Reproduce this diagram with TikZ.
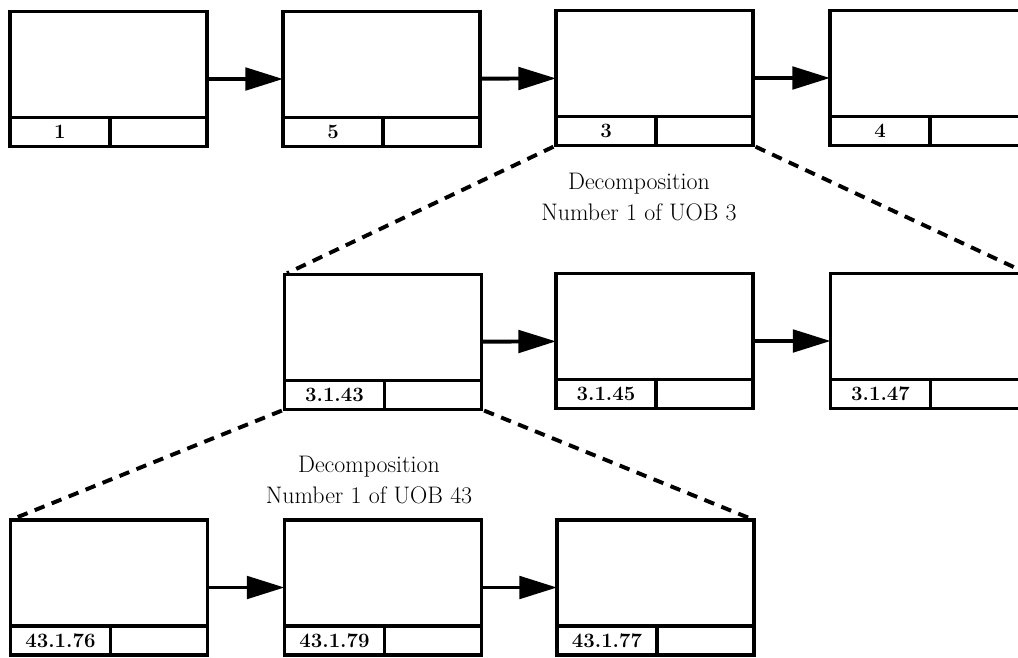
\documentclass[tikz,border=0pt]{standalone}
\usepackage{tikz}
\usetikzlibrary{arrows.meta}
\tikzset{
  uob/.style = {rectangle, draw=black, line width=2.6pt, minimum width=4.925cm, minimum height=3.375cm, inner sep=0pt, outer sep=0pt},
  uobnum/.style = {rectangle, draw=black, line width=2.6pt, anchor=south west, minimum width=2.5cm, minimum height=0.725cm, inner sep=0pt, outer sep=0pt, font=\fontsize{14.5}{16}\selectfont\bfseries},
  uobrest/.style = {rectangle, draw=black, line width=2.6pt, anchor=south east, minimum width=2.425cm, minimum height=0.725cm, inner sep=0pt, outer sep=0pt},
  precedes/.style = {line width=2.8pt, -{Triangle[length=0.94cm, width=0.56cm]}},
  decomp/.style = {line width=2.8pt, dash pattern=on 7.5pt off 5.5pt, shorten <=2pt, shorten >=2pt},
  decomplabel/.style = {align=center, font=\fontsize{17}{22}\selectfont}
}

\begin{document}
\begin{tikzpicture}[x=0.025cm, y=-0.025cm]
\useasboundingbox (0,0) rectangle (1018,657);
\clip (0,0) rectangle (1018,657);
% TOP ROW
\node (U1) [uob] at (108.5,79) {};
\node (U1-n) [uobnum] at (U1.south west) {1};
\node (U1-r) [uobrest] at (U1.south east) {};
\node (U5) [uob] at (381.5,79) {};
\node (U5-n) [uobnum] at (U5.south west) {5};
\node (U5-r) [uobrest] at (U5.south east) {};
\node (U3) [uob] at (654.5,78) {};
\node (U3-n) [uobnum] at (U3.south west) {3};
\node (U3-r) [uobrest] at (U3.south east) {};
\node (U4) [uob] at (928.5,78) {};
\node (U4-n) [uobnum] at (U4.south west) {4};
\node (U4-r) [uobrest] at (U4.south east) {};
\draw [precedes] (U1) -- (U5);
\draw [precedes] (U5) -- (U3);
\draw [precedes] (U3) -- (U4);
% DECOMPOSITION OF UOB 3
\node (U3-43) [uob] at (383,342) {};
\node (U3-43-n) [uobnum] at (U3-43.south west) {3.1.43};
\node (U3-43-r) [uobrest] at (U3-43.south east) {};
\node (U3-45) [uob] at (654.5,341) {};
\node (U3-45-n) [uobnum] at (U3-45.south west) {3.1.45};
\node (U3-45-r) [uobrest] at (U3-45.south east) {};
\node (U3-47) [uob] at (929,341) {};
\node (U3-47-n) [uobnum] at (U3-47.south west) {3.1.47};
\node (U3-47-r) [uobrest] at (U3-47.south east) {};
\draw [precedes] (U3-43) -- (U3-45);
\draw [precedes] (U3-45) -- (U3-47);
\draw [decomp] (U3.south west) -- (U3-43.north west);
\draw [decomp] (U3.south east) -- (U3-47.north east);
\node (D3) [decomplabel] at (639,197) {Decomposition\\Number 1 of UOB 3};
% DECOMPOSITION OF UOB 43
\node (U43-76) [uob] at (109,587.5) {};
\node (U43-76-n) [uobnum] at (U43-76.south west) {43.1.76};
\node (U43-76-r) [uobrest] at (U43-76.south east) {};
\node (U43-79) [uob] at (383,587.5) {};
\node (U43-79-n) [uobnum] at (U43-79.south west) {43.1.79};
\node (U43-79-r) [uobrest] at (U43-79.south east) {};
\node (U43-77) [uob] at (655.5,587.5) {};
\node (U43-77-n) [uobnum] at (U43-77.south west) {43.1.77};
\node (U43-77-r) [uobrest] at (U43-77.south east) {};
\draw [precedes] (U43-76) -- (U43-79);
\draw [precedes] (U43-79) -- (U43-77);
\draw [decomp] (U3-43.south west) -- (U43-76.north west);
\draw [decomp] (U3-43.south east) -- (U43-77.north east);
\node (D43) [decomplabel] at (369,480) {Decomposition\\Number 1 of UOB 43};
\end{tikzpicture}
\end{document}
